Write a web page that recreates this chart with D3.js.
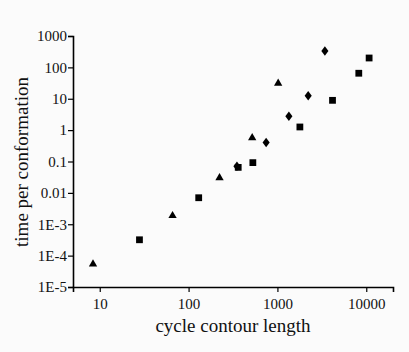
<!DOCTYPE html>
<html>
<head>
<meta charset="utf-8">
<script src="https://cdn.jsdelivr.net/npm/d3@7"></script>
<style>
  body { margin: 0; background: #fbfbfb; }
  svg { display: block; }
</style>
</head>
<body>
<div id="chart"></div>
<script>
// data (x = cycle contour length, y = time per conformation)
const triangles = [
  [8.4, 5.4e-5], [66, 1.87e-3], [223, 0.03], [520, 0.57], [1020, 31]
];
const squares = [
  [28, 3.2e-4], [130, 0.0070], [362, 0.065], [529, 0.092],
  [1790, 1.26], [4170, 8.9], [8240, 65], [10770, 199]
];
const diamonds = [
  [350, 0.07], [746, 0.40], [1345, 2.75], [2220, 12.5], [3420, 333]
];
const xTicks = [10, 100, 1000, 10000];
const yTicks = [1000, 100, 10, 1, 0.1, 0.01, 1e-3, 1e-4, 1e-5];
const yTickLabels = ["1000", "100", "10", "1", "0.1", "0.01", "1E-3", "1E-4", "1E-5"];

const w = 409, h = 352;
const serif = "Liberation Serif";

const svg = d3.select("#chart").append("svg")
  .attr("width", w)
  .attr("height", h);

const x = d3.scaleLog().domain([5, 20000]).range([73, 393]);
const y = d3.scaleLog().domain([1e-5, 1000]).range([287, 36]);

// minor ticks: 2..9 in every decade
function minors(lo, hi) {
  const out = [];
  for (let e = Math.floor(Math.log10(lo)); e <= Math.ceil(Math.log10(hi)); e++) {
    for (let m = 1; m < 10; m++) {
      const v = m * Math.pow(10, e);
      if (v >= lo && v <= hi) out.push(v);
    }
  }
  return out;
}

// x axis
const gx = svg.append("g").attr("transform", `translate(0,${y.range()[0]})`);
gx.call(d3.axisBottom(x).tickValues(minors(5, 20000)).tickSize(3).tickFormat(""));
gx.call(d3.axisBottom(x).tickValues(xTicks).tickSize(5).tickPadding(6)
  .tickFormat(d3.format("d")));
gx.selectAll(".domain").attr("stroke-width", 1.6);
gx.selectAll("line").attr("stroke-width", 1.2);
gx.selectAll("text")
  .style("font-family", serif)
  .style("font-size", "15px")
  .attr("fill", "#111");

// y axis
const gy = svg.append("g").attr("transform", `translate(${x.range()[0]},0)`);
gy.call(d3.axisLeft(y).tickValues(minors(1e-5, 1000)).tickSize(3).tickFormat(""));
gy.call(d3.axisLeft(y).tickValues(yTicks).tickSize(5).tickPadding(1)
  .tickFormat((d, i) => yTickLabels[i]));
gy.selectAll(".domain").attr("stroke-width", 1.6);
gy.selectAll("line").attr("stroke-width", 1.2);
gy.selectAll("text")
  .style("font-family", serif)
  .style("font-size", "15px")
  .attr("fill", "#111");

// axis titles
svg.append("text")
  .attr("x", 233).attr("y", 332)
  .attr("text-anchor", "middle")
  .style("font-family", serif)
  .style("font-size", "19px")
  .attr("fill", "#111")
  .text("cycle contour length");

svg.append("text")
  .attr("transform", "translate(28,162) rotate(-90)")
  .attr("text-anchor", "middle")
  .style("font-family", serif)
  .style("font-size", "19px")
  .attr("fill", "#111")
  .text("time per conformation");

// markers
svg.selectAll(".sq").data(squares).enter()
  .append("path")
  .attr("class", "sq")
  .attr("d", d3.symbol(d3.symbolSquare, 46))
  .attr("transform", d => `translate(${x(d[0])},${y(d[1])})`)
  .attr("fill", "#000");

svg.selectAll(".tri").data(triangles).enter()
  .append("path")
  .attr("class", "tri")
  .attr("d", d3.symbol(d3.symbolTriangle, 30))
  .attr("transform", d => `translate(${x(d[0])},${y(d[1])})`)
  .attr("fill", "#000");

svg.selectAll(".dia").data(diamonds).enter()
  .append("path")
  .attr("class", "dia")
  .attr("d", d3.symbol(d3.symbolDiamond, 26))
  .attr("transform", d => `translate(${x(d[0])},${y(d[1])}) scale(1.3,1)`)
  .attr("fill", "#000");
</script>
</body>
</html>
